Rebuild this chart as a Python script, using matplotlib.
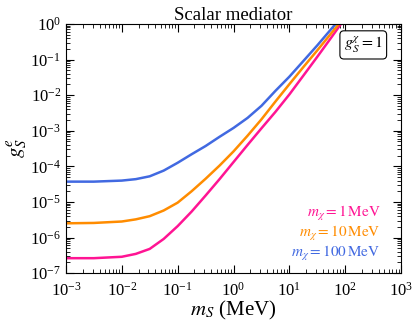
import matplotlib
matplotlib.use('Agg')
from matplotlib import pyplot as plt
from matplotlib.ticker import LogLocator, NullFormatter

plt.rcParams['font.family'] = 'serif'
plt.rcParams['font.serif'] = ['Liberation Serif', 'DejaVu Serif']
plt.rcParams['mathtext.fontset'] = 'stix'

# mediator mass grid (MeV)
m_S = [1e-3, 3.16e-3, 1e-2, 1.78e-2, 3.16e-2, 5.62e-2, 0.1, 0.178, 0.316,
       0.562, 1.0, 1.78, 3.16, 5.62, 10.0, 17.8, 31.6, 56.2, 100.0]

# coupling g_S^e for each DM mass
g_1MeV = [2.63e-7, 2.63e-7, 2.88e-7, 3.47e-7, 4.79e-7, 9.12e-7, 2.09e-6,
          5.37e-6, 1.51e-5, 4.37e-5, 1.32e-4, 3.98e-4, 1.17e-3, 3.39e-3,
          1.05e-2, 3.55e-2, 0.120, 0.417, 1.48]
g_10MeV = [2.51e-6, 2.57e-6, 2.82e-6, 3.24e-6, 3.98e-6, 5.75e-6, 9.55e-6,
           2.0e-5, 4.47e-5, 1.05e-4, 2.63e-4, 7.24e-4, 2.09e-3, 6.61e-3,
           2.04e-2, 6.17e-2, 0.182, 0.550, 1.66]
g_100MeV = [3.72e-5, 3.72e-5, 3.98e-5, 4.37e-5, 5.25e-5, 7.59e-5, 1.26e-4,
            2.19e-4, 3.72e-4, 6.76e-4, 1.20e-3, 2.29e-3, 5.01e-3, 1.32e-2,
            3.31e-2, 9.12e-2, 0.251, 0.724, 2.09]

labels = [r'$m_\chi = 1\,\mathrm{MeV}$', r'$m_\chi = 10\,\mathrm{MeV}$',
          r'$m_\chi = 100\,\mathrm{MeV}$']
colors = ['#ff1493', '#ff8c00', '#4169e1']


def plotScalar():
    fig = plt.figure(figsize=(4.17, 3.24), dpi=100)
    ax = fig.add_axes([0.158, 0.157, 0.804, 0.769])

    for g, c in zip([g_1MeV, g_10MeV, g_100MeV], colors):
        ax.plot(m_S, g, color=c, lw=1.8, solid_joinstyle='round')

    ax.set_xscale('log')
    ax.set_yscale('log')
    ax.set_xlim(1e-3, 1e3)
    ax.set_ylim(1e-7, 1e0)
    ax.xaxis.set_major_locator(LogLocator(base=10, numticks=20))
    ax.yaxis.set_major_locator(LogLocator(base=10, numticks=20))
    for axis in (ax.xaxis, ax.yaxis):
        axis.set_minor_locator(LogLocator(base=10, subs=range(2, 10), numticks=20))
        axis.set_minor_formatter(NullFormatter())
    ax.tick_params(which='both', direction='in', top=True, right=True,
                   labelsize=12)
    ax.tick_params(which='major', length=6, width=0.8)
    ax.tick_params(which='minor', length=3, width=0.6)
    ax.tick_params(axis='x', which='major', pad=6)

    ax.set_xlabel(r'$m_S$ (MeV)', fontsize=15, labelpad=0)
    ax.set_ylabel(r'$g_S^e$', fontsize=15, labelpad=0)
    ax.set_title('Scalar mediator', fontsize=13.5, pad=3)

    ypos = [0.241, 0.161, 0.080]
    for lab, c, y in zip(labels, colors, ypos):
        ax.text(0.938, y, lab, color=c, fontsize=11, ha='right',
                va='center', transform=ax.transAxes)

    ax.text(0.887, 0.916, r'$g_S^\chi = 1$', fontsize=11.5, ha='center',
            va='center', transform=ax.transAxes,
            bbox=dict(boxstyle='round,pad=0.25', fc='white', ec='black', lw=0.8))

    fig.savefig('out.png', dpi=100)


if __name__ == '__main__':
    plotScalar()
